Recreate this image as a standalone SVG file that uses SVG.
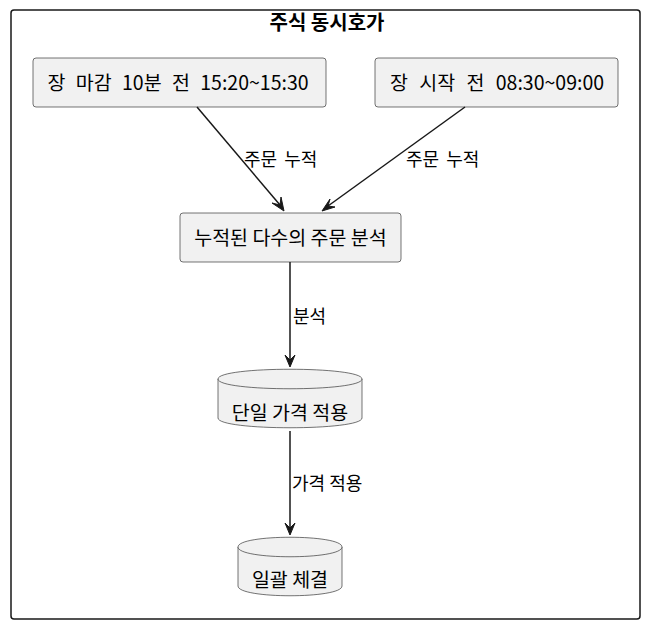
<svg xmlns="http://www.w3.org/2000/svg" width="653" height="632" viewBox="0 0 653 632">
<style>
text{font-family:"Noto Sans CJK KR","Noto Sans",sans-serif;fill:#000}
.frame{fill:#fff;stroke:#181818;stroke-width:1.5}
.box{fill:#f1f1f1;stroke:#181818;stroke-width:0.6}
.db{fill:#f1f1f1;stroke:#181818;stroke-width:0.6}
.nt{font-size:19.5px;text-anchor:middle}
.lbl{font-size:18px}
.ws{word-spacing:3px}
.title{font-size:20px;font-weight:bold;text-anchor:middle}
.edge{stroke:#181818;stroke-width:1.5;fill:none}
.ah{fill:#181818;stroke:#181818;stroke-width:1}
</style>
<rect width="653" height="632" fill="#fff"/>
<g id="frame">
<rect class="frame" x="11" y="10" width="629" height="609" rx="3"/>
<text class="title" x="327" y="30">주식 동시호가</text>
</g>
<g id="n1">
<rect class="box" x="33" y="58" width="293" height="49" rx="3"/>
<text class="nt" x="178" y="90" style="word-spacing:6px">장 마감 10분 전 15:20~15:30</text>
</g>
<g id="n2">
<rect class="box" x="375" y="58" width="243" height="49" rx="3"/>
<text class="nt" x="497" y="90" style="word-spacing:7px">장 시작 전 08:30~09:00</text>
</g>
<g id="n3">
<rect class="box" x="180" y="213" width="221" height="49" rx="3"/>
<text class="nt" x="290.5" y="245">누적된 다수의 주문 분석</text>
</g>
<g id="db1">
<path class="db" d="M218,379 C218,366 362,366 362,379 L362,418 C362,431 218,431 218,418 Z"/>
<path class="db" d="M218,379 C218,392 362,392 362,379"/>
<text class="nt" x="290" y="420">단일 가격 적용</text>
</g>
<g id="db2">
<path class="db" d="M238,547 C238,534 342,534 342,547 L342,586 C342,599 238,599 238,586 Z"/>
<path class="db" d="M238,547 C238,560 342,560 342,547"/>
<text class="nt" x="290" y="587">일괄 체결</text>
</g>
<g id="connectors">
<path class="edge" d="M197,107 L280,205"/>
<polygon class="ah" points="284,211 272,203 280,205 281,197"/>
<text class="lbl ws" x="244" y="166">주문 누적</text>
<path class="edge" d="M465,107 L328,206"/>
<polygon class="ah" points="322,211 330,199 328,206 335,207"/>
<text class="lbl ws" x="406" y="166">주문 누적</text>
<path class="edge" d="M290,262 L290,360"/>
<polygon class="ah" points="290,367 285,355 290,360 295,355"/>
<text class="lbl" x="293" y="323">분석</text>
<path class="edge" d="M290,431 L290,528"/>
<polygon class="ah" points="290,535 285,523 290,528 295,523"/>
<text class="lbl" x="292" y="490">가격 적용</text>
</g>
</svg>
